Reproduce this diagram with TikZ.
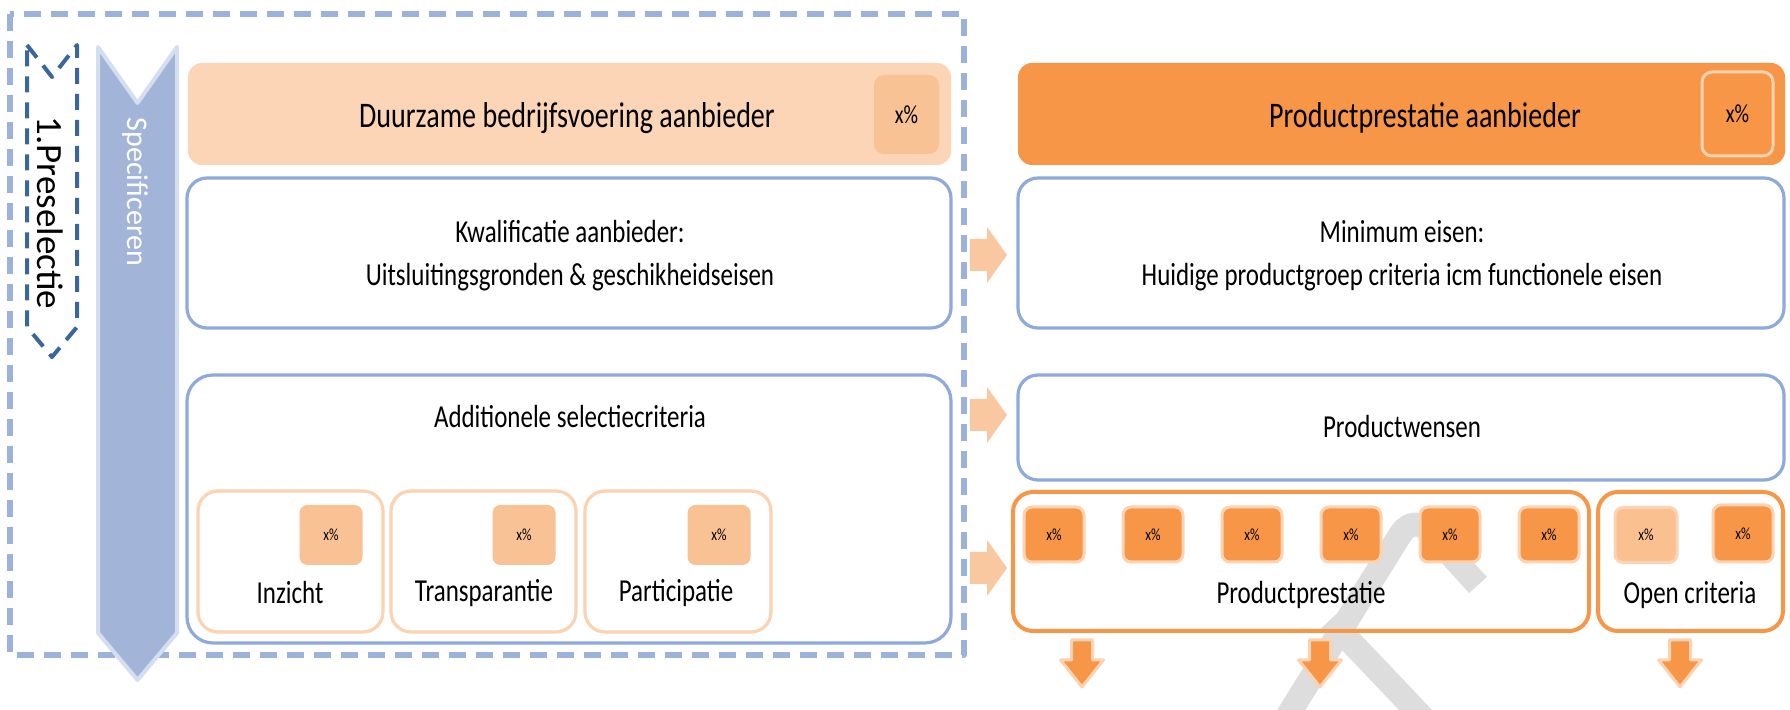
\documentclass[tikz,border=0pt]{standalone}
\usepackage{fontspec}
\setmainfont[FakeStretch=0.78]{Carlito}
\newfontfamily\rotfont{Carlito}
\definecolor{peach}{HTML}{FBD5B5}
\definecolor{peachdk}{HTML}{F9C295}
\definecolor{orng}{HTML}{F79646}
\definecolor{orlite}{HTML}{FAC090}
\definecolor{orglow}{HTML}{FBD3B3}
\definecolor{bluebd}{HTML}{8EA9DB}
\definecolor{bluearr}{HTML}{A2B5D9}
\definecolor{bluearrbd}{HTML}{D3DEF0}
\definecolor{darkblue}{HTML}{3A669E}
\definecolor{dashblue}{HTML}{9CB2DA}
\definecolor{arrlite}{HTML}{FAC8A0}
\definecolor{wm}{HTML}{DDDDDD}
\tikzset{
  sz/.style 2 args={minimum width=#1*0.5pt, minimum height=#2*0.5pt, inner sep=0pt},
  bbox/.style={draw=bluebd, line width=1.6pt, rounded corners=10pt, inner sep=0pt},
  sbox/.style={draw=orglow, line width=1.6pt, rounded corners=10pt, inner sep=0pt},
  obox/.style={draw=orng, line width=2pt, rounded corners=10pt, inner sep=0pt},
  xdark/.style={fill=orng, draw=orglow, line width=1.5pt, rounded corners=4pt, sz={60}{55}},
  xlite/.style={fill=peachdk, rounded corners=4pt, sz={63}{60}},
  body/.style={font=\fontsize{16}{21.5}\selectfont, align=center, inner sep=0pt},
  hdr/.style={font=\fontsize{18}{18}\selectfont, inner sep=0pt},
  xs/.style={font=\fontsize{8.5}{8.5}\selectfont, inner sep=0pt},
  xl/.style={font=\fontsize{13}{13}\selectfont, inner sep=0pt},
  rarr/.pic={\fill[arrlite] (-37,-16) -- (-20,-16) -- (-20,-28) -- (0,0) -- (-20,28) -- (-20,16) -- (-37,16) -- cycle;},
  darr/.pic={\filldraw[fill=orng, draw=orglow, line width=1.5pt] (-10.5,0) -- (10.5,0) -- (10.5,20) -- (21.5,20) -- (0,47) -- (-21.5,20) -- (-10.5,20) -- cycle;}
}
\begin{document}
\begin{tikzpicture}[x=0.5pt,y=-0.5pt, line join=round]
\useasboundingbox (0,0) rectangle (1790,710);
% watermark
\begin{scope}
\clip (0,0) rectangle (1790,710);
\draw[wm, line width=12pt] (1285,720) -- (1400,535) .. controls (1408,522) and (1420,522) .. (1428,530) -- (1478,585);
\draw[wm, line width=12pt] (1330,620) -- (1425,720);
\end{scope}
% outer dashed frame
\draw[dashblue, line width=2.7pt, dash pattern=on 8.5pt off 5pt] (10,14) rectangle (964,655);
% preselectie chevron
\draw[darkblue, line width=2pt, dash pattern=on 8pt off 5pt] (27,45) -- (52,77) -- (77,45) -- (77,327) -- (52,357) -- (27,327) -- cycle;
\node[rotate=-90, font=\rotfont\fontsize{18.5}{18.5}\selectfont, inner sep=0pt] (presel) at (50,213) {1.Preselectie};
% specificeren arrow
\draw[fill=bluearr, draw=bluearrbd, line width=2pt] (98,47) -- (137.5,103) -- (177,47) -- (177,633) -- (137.5,680) -- (98,633) -- cycle;
\node[rotate=-90, text=white, font=\rotfont\fontsize{15}{15}\selectfont, inner sep=0pt] (spec) at (135,192) {Specificeren};
% headers
\node[fill=peach, rounded corners=7pt, sz={763}{102}] (hdrL) at (569.5,114) {};
\node[hdr] (hdrLt) at (567,118) {Duurzame bedrijfsvoering aanbieder};
\node[fill=peachdk, rounded corners=5pt, sz={65}{79}] (hdrLx) at (906.5,114.5) {};
\node[xl] (hdrLxt) at (hdrLx) {x\%};
\node[fill=orng, rounded corners=7pt, sz={767}{102}] (hdrR) at (1401.5,114) {};
\node[hdr] (hdrRt) at (1425,118) {Productprestatie aanbieder};
\node[fill=orng, draw=orglow, line width=1.5pt, rounded corners=5pt, sz={71}{84}] (hdrRx) at (1737.5,114) {};
\node[xl] (hdrRxt) at (hdrRx) {x\%};
% left column boxes
\node[bbox, sz={764}{150}] (kwal) at (569,253) {};
\node[body] (kwalt) at (570,256) {Kwalificatie aanbieder:\\Uitsluitingsgronden \& geschikheidseisen};
\node[bbox, rounded corners=13pt, sz={764}{268}] (add) at (569,509) {};
\node[body] (addt) at (570,417) {Additionele selectiecriteria};
% sub boxes
\node[sbox, sz={185}{141}] (inz) at (290.5,561.5) {};
\node[sbox, sz={185}{141}] (tra) at (483.5,561.5) {};
\node[sbox, sz={186}{141}] (par) at (678,561.5) {};
\node[xlite] (inzx) at (331,535) {};
\node[xlite] (trax) at (524,535) {};
\node[xlite] (parx) at (719,535) {};
\node[xs] (inzxt) at (inzx) {x\%};
\node[xs] (traxt) at (trax) {x\%};
\node[xs] (parxt) at (parx) {x\%};
\node[body] (inzt) at (290,593) {Inzicht};
\node[body] (trat) at (484,593) {Transparantie};
\node[body] (part) at (676,593) {Participatie};
% right column boxes
\node[bbox, sz={766}{150}] (mini) at (1401,253) {};
\node[body] (minit) at (1402,256) {Minimum eisen:\\Huidige productgroep criteria icm functionele eisen};
\node[bbox, sz={766}{105}] (wens) at (1401,427.5) {};
\node[body] (wenst) at (1402,427) {Productwensen};
\node[obox, sz={576}{139}] (pp) at (1301,561.5) {};
\node[body] (ppt) at (1301,595) {Productprestatie};
\foreach \i/\cx in {1/1054,2/1153,3/1252,4/1351,5/1450,6/1549}{
  \node[xdark] (ppx\i) at (\cx,534.5) {};
  \node[xs] (ppxt\i) at (ppx\i) {x\%};
}
\node[obox, sz={185}{139}] (oc) at (1690.5,561.5) {};
\node[body] (oct) at (1690,595) {Open criteria};
\node[fill=orlite, draw=orglow, line width=1.5pt, rounded corners=4pt, sz={62}{55}] (ocx1) at (1646,535) {};
\node[xdark, sz={60}{57}] (ocx2) at (1743,533.5) {};
\node[xs] (ocxt1) at (ocx1) {x\%};
\node[xs] (ocxt2) at (ocx2) {x\%};
% arrows
\pic at (1007,255) {rarr};
\pic at (1007,415) {rarr};
\pic at (1007,568) {rarr};
\pic at (1082,640) {darr};
\pic at (1320,640) {darr};
\pic at (1680,640) {darr};
\end{tikzpicture}
\end{document}
